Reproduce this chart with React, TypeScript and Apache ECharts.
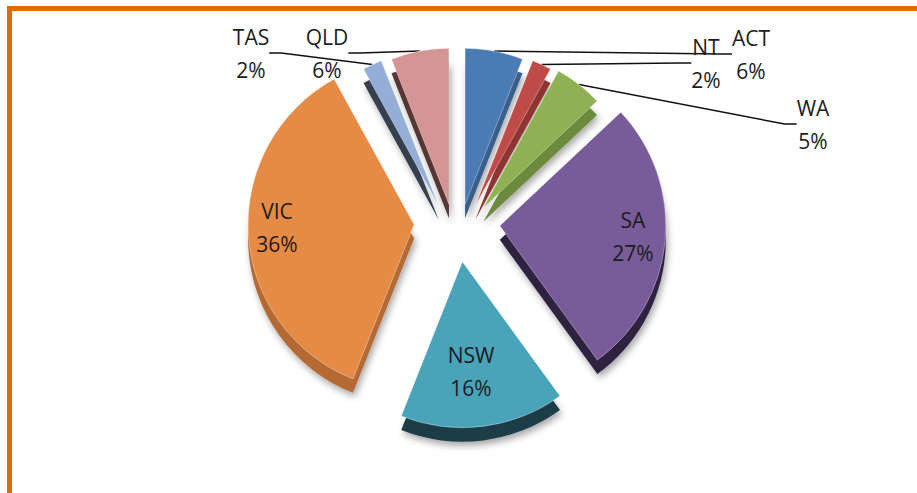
import React, { useEffect, useRef } from 'react';
import * as echarts from 'echarts';

// ---- data ----
const states = ['ACT', 'NT', 'WA', 'SA', 'NSW', 'VIC', 'TAS', 'QLD'];
const shares = [6, 2, 5, 27, 16, 36, 2, 6];

// ---- styles / layout ----
const topColors = ['#4A7BB2', '#BE4B48', '#8FB153', '#785C99', '#49A3B9', '#E68B46', '#95AED8', '#D69595'];
const sideColors = ['#375E8C', '#8E3533', '#6C8A3B', '#2D2441', '#1C3C46', '#B46A30', '#36404F', '#563536'];
const labelPos: Record<string, [number, number]> = {
  ACT: [751, 54], NT: [706, 63], WA: [813, 124], TAS: [251, 53], QLD: [327, 53],
  SA: [633, 236], NSW: [471, 371], VIC: [277, 227],
};
const insideLabels = ['SA', 'NSW', 'VIC'];
const CX = 457;
const CY = 222;
const OFF_X = 43; // explode offset, horizontal
const OFF_UP = 18; // explode offset for far (upper) slices, foreshortened
const OFF_DOWN = 40; // explode offset for near (lower) slices
const R_FAR = 156;
const R_NEAR = 166;
const DEPTH = 14;
const CLEAR = 'rgba(0,0,0,0)';

const labelStyle = {
  color: '#1c1c1c',
  fontFamily: 'Open Sans',
  fontSize: 21,
  lineHeight: 33,
  formatter: '{b}\n{d}%',
};

function buildSeries() {
  const total = shares.reduce((a, b) => a + b, 0);
  let acc = 0;
  const mids = shares.map((v) => {
    const m = ((acc + v / 2) / total) * Math.PI * 2;
    acc += v;
    return m;
  });

  const one = (k: number, side: boolean) => {
    const m = mids[k];
    const c = Math.cos(m);
    const s = Math.sin(m);
    const cx = CX + OFF_X * s;
    const cy = CY - (c > 0 ? OFF_UP : OFF_DOWN) * c + (side ? DEPTH : 0);
    const r = c > 0 ? R_FAR : R_NEAR;
    const name = states[k];
    const inside = insideLabels.includes(name);
    const data = states.map((n, i) => {
      const mine = i === k;
      return {
        name: n,
        value: shares[i],
        itemStyle: mine
          ? side
            ? { color: sideColors[i], shadowBlur: 7, shadowColor: 'rgba(0,0,0,0.35)', shadowOffsetX: 2, shadowOffsetY: 4 }
            : { color: topColors[i], borderColor: 'rgba(255,255,255,0.35)', borderWidth: 1 }
          : { color: CLEAR, borderWidth: 0, shadowBlur: 0 },
        label: { show: mine && !side },
        labelLine: { show: mine && !side && !inside },
      };
    });
    return {
      type: 'pie',
      name: name + (side ? '-side' : ''),
      silent: true,
      z: side ? 1 : 2,
      center: [cx, cy],
      radius: r,
      startAngle: 90,
      clockwise: true,
      avoidLabelOverlap: false,
      emphasis: { disabled: true },
      label: { ...labelStyle, position: inside ? 'inside' : 'outside' },
      labelLine: { length: 10, length2: 12, lineStyle: { color: '#111', width: 1.5 } },
      labelLayout: side
        ? undefined
        : (p: any) => {
            const pos = labelPos[states[p.dataIndex]];
            return { x: pos[0], y: pos[1], align: 'center', verticalAlign: 'middle' };
          },
      data,
    };
  };

  const sides = states.map((_, k) => one(k, true));
  const tops = states.map((_, k) => one(k, false));
  return [...sides, ...tops];
}

export default function App() {
  const ref = useRef<HTMLDivElement>(null);
  useEffect(() => {
    if (!ref.current) return;
    const chart = echarts.init(ref.current, undefined, { renderer: 'svg' });
    chart.setOption({
      animation: false,
      backgroundColor: '#ffffff',
      graphic: [
        {
          type: 'rect',
          silent: true,
          z: 0,
          shape: { x: 9.5, y: 8.5, width: 1000, height: 600 },
          style: { fill: 'none', stroke: '#E26B0A', lineWidth: 5 },
        },
      ],
      series: buildSeries(),
    });
    return () => chart.dispose();
  }, []);
  return <div ref={ref} style={{ position: 'absolute', left: 0, top: 0, width: 917, height: 493 }} />;
}
